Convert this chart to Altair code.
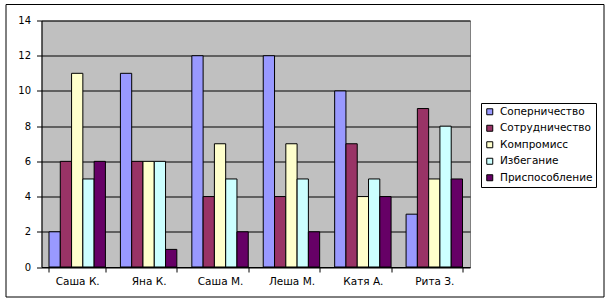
import altair as alt
import pandas as pd

categories = ["Саша К.", "Яна К.", "Саша М.", "Леша М.", "Катя А.", "Рита З."]
series = ["Соперничество", "Сотрудничество", "Компромисс", "Избегание", "Приспособление"]
colors = ["#9999FF", "#993366", "#FFFFCC", "#CCFFFF", "#660066"]

соперничество = [2, 11, 12, 12, 10, 3]
сотрудничество = [6, 6, 4, 4, 7, 9]
компромисс = [11, 6, 7, 7, 4, 5]
избегание = [5, 6, 5, 5, 5, 8]
приспособление = [6, 1, 2, 2, 4, 5]

values = [соперничество, сотрудничество, компромисс, избегание, приспособление]
rows = []
for s, vals in zip(series, values):
    for c, v in zip(categories, vals):
        rows.append({"cat": c, "series": s, "value": v})
df = pd.DataFrame(rows)

FONT = "DejaVu Sans"

bars = alt.Chart(df).mark_bar(stroke="black", strokeWidth=1).encode(
    x=alt.X("cat:N", sort=categories, title=None,
            scale=alt.Scale(paddingInner=0.21, paddingOuter=0.105),
            axis=alt.Axis(labelAngle=0, tickBand="extent", tickSize=5,
                          labelPadding=4, domainColor="black", tickColor="black",
                          labelColor="black", labelFont=FONT, labelFontSize=10.5)),
    xOffset=alt.XOffset("series:N", sort=series, scale=alt.Scale(paddingInner=0, paddingOuter=0)),
    y=alt.Y("value:Q", title=None,
            scale=alt.Scale(domain=[0, 14], nice=False),
            axis=alt.Axis(values=[0, 2, 4, 6, 8, 10, 12, 14], tickSize=5, labelPadding=6,
                          grid=True, gridColor="black", gridOpacity=1,
                          domainColor="black", tickColor="black",
                          labelColor="black", labelFont=FONT, labelFontSize=10)),
    color=alt.Color("series:N", sort=series, title=None,
                    scale=alt.Scale(domain=series, range=colors),
                    legend=alt.Legend(orient="none", legendX=439.5, legendY=82.5,
                                      fillColor="white", strokeColor="black",
                                      padding=3.5, rowPadding=5.5, symbolType="square",
                                      symbolSize=36, symbolStrokeColor="black",
                                      symbolStrokeWidth=1, labelFont=FONT,
                                      labelFontSize=10.5, labelColor="black",
                                      labelOffset=5)),
)

border = alt.Chart(alt.Data(values=[{}])).mark_rect(
    fill=None, stroke="black", strokeWidth=1
).encode(
    x=alt.value(-35.5), x2=alt.value(562.5),
    y=alt.value(-16), y2=alt.value(276.5),
)

chart = alt.layer(bars, border).properties(
    width=428.5, height=246.5,
    autosize=alt.AutoSizeParams(type="none"),
    padding={"left": 41.5, "top": 20.5, "right": 141, "bottom": 36},
    background="white",
).configure_view(
    fill="#C0C0C0", stroke="#808080", strokeWidth=1
)

chart.save("out.html", embed_options={"renderer": "svg", "actions": False})
